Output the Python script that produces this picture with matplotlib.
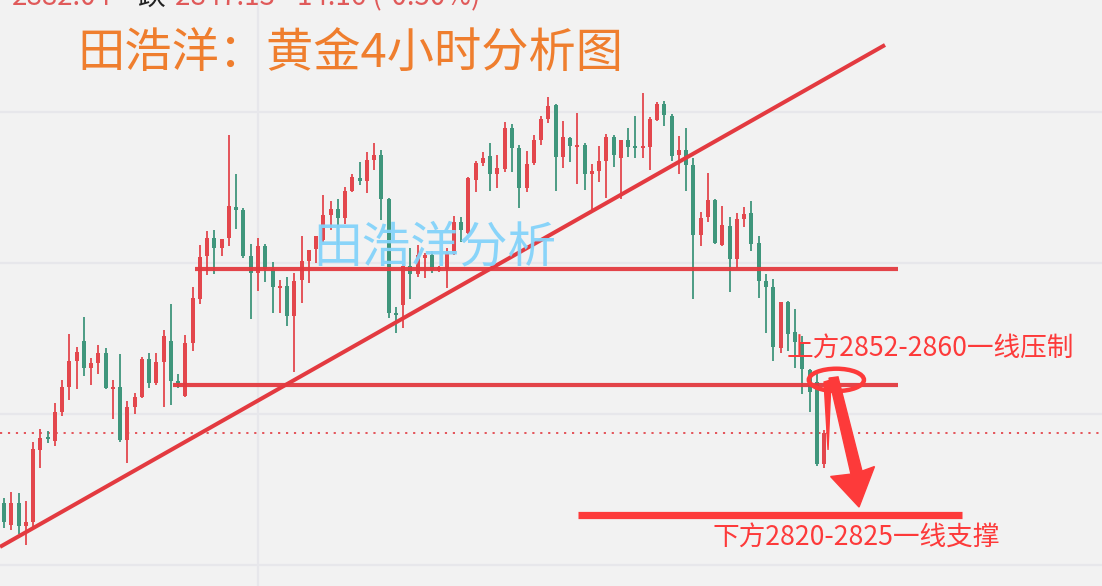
import matplotlib
matplotlib.use('Agg')
import matplotlib.pyplot as plt
from matplotlib.patches import Ellipse, Polygon, Rectangle

plt.rcParams['font.family'] = ['Noto Sans CJK SC', 'DejaVu Sans']

# ---------------- data (gold, 4h candles) ----------------
opens = [2820.5, 2813.2, 2820.5, 2812.9, 2814.2, 2838.1, 2842.4, 2841.1, 2850.7, 2858.9,
         2867.6, 2874.2, 2865.2, 2866.9, 2870.2, 2858.3, 2858.9, 2841.4, 2852.3, 2855.6,
         2868.2, 2860.3, 2867.2, 2874.2, 2860.9, 2856.0, 2873.5, 2888.1, 2902.3, 2908.3,
         2905.0, 2908.3, 2918.5, 2917.6, 2902.3, 2896.7, 2905.6, 2898.0, 2891.7, 2892.4,
         2882.5, 2894.4, 2900.7, 2904.6, 2907.6, 2915.9, 2917.9, 2914.9, 2923.8, 2928.1,
         2927.2, 2934.1, 2935.8, 2921.2, 2883.4, 2886.1, 2899.0, 2896.4, 2901.7, 2902.6,
         2897.7, 2898.0, 2903.0, 2913.6, 2909.9, 2927.5, 2933.1, 2935.4, 2929.5, 2931.1,
         2944.7, 2938.1, 2924.8, 2933.1, 2940.7, 2947.7, 2952.3, 2935.1, 2941.4, 2938.4,
         2939.1, 2929.5, 2930.5, 2933.8, 2941.7, 2934.8, 2940.7, 2938.4, 2938.1, 2938.4,
         2947.4, 2952.7, 2948.7, 2935.8, 2937.4, 2932.5, 2909.3, 2915.2, 2920.9, 2906.0,
         2912.3, 2901.3, 2914.6, 2916.6, 2906.6, 2894.0, 2892.1, 2871.9, 2887.1, 2877.2,
         2873.2, 2864.6, 2860.6, 2833.4]
highs = [2822.2, 2824.2, 2823.8, 2821.2, 2840.7, 2845.0, 2844.4, 2853.6, 2861.3, 2876.5,
         2872.2, 2882.1, 2868.5, 2872.8, 2871.9, 2861.3, 2869.9, 2854.3, 2857.0, 2868.9,
         2870.2, 2870.2, 2877.8, 2886.4, 2863.2, 2876.2, 2892.1, 2906.0, 2910.6, 2910.9,
         2908.0, 2942.4, 2929.5, 2918.2, 2906.3, 2908.3, 2906.3, 2900.3, 2894.4, 2895.4,
         2896.7, 2908.9, 2904.3, 2908.9, 2922.5, 2920.5, 2921.2, 2925.2, 2929.5, 2933.4,
         2936.8, 2939.7, 2937.4, 2921.5, 2885.4, 2899.7, 2905.0, 2906.0, 2903.3, 2904.0,
         2899.0, 2905.0, 2915.6, 2915.2, 2928.5, 2933.8, 2936.8, 2939.7, 2935.8, 2946.7,
         2946.0, 2939.1, 2937.1, 2942.4, 2948.7, 2955.0, 2952.7, 2947.0, 2941.7, 2949.7,
         2939.7, 2932.8, 2938.7, 2942.7, 2942.4, 2940.7, 2944.7, 2948.7, 2956.3, 2948.3,
         2953.3, 2953.6, 2949.3, 2942.1, 2944.7, 2934.8, 2916.9, 2929.8, 2921.2, 2918.9,
         2915.2, 2916.6, 2918.5, 2920.5, 2908.9, 2896.4, 2894.7, 2887.1, 2887.4, 2884.8,
         2875.8, 2864.9, 2863.9, 2844.7]
lows = [2812.3, 2811.6, 2810.3, 2806.6, 2812.6, 2832.1, 2840.4, 2839.4, 2849.3, 2854.6,
        2858.3, 2862.6, 2859.6, 2863.2, 2858.3, 2848.3, 2840.7, 2833.8, 2850.0, 2855.3,
        2858.6, 2859.6, 2852.3, 2853.0, 2858.6, 2855.6, 2870.9, 2886.4, 2896.0, 2896.4,
        2902.3, 2905.6, 2911.3, 2901.7, 2881.5, 2890.7, 2893.7, 2883.4, 2883.4, 2879.1,
        2863.9, 2886.8, 2893.4, 2900.0, 2907.0, 2910.9, 2906.0, 2912.9, 2923.5, 2925.8,
        2923.2, 2930.8, 2914.2, 2881.8, 2876.8, 2878.5, 2888.1, 2895.4, 2895.0, 2896.7,
        2897.0, 2891.7, 2902.6, 2907.0, 2909.6, 2923.5, 2932.1, 2923.8, 2924.8, 2930.1,
        2930.1, 2918.2, 2923.5, 2932.5, 2939.1, 2946.4, 2923.8, 2931.5, 2933.4, 2926.2,
        2924.2, 2917.2, 2926.8, 2921.5, 2931.8, 2921.2, 2935.1, 2934.8, 2934.8, 2930.8,
        2947.0, 2945.4, 2933.8, 2929.5, 2923.8, 2888.1, 2905.6, 2913.6, 2906.3, 2905.6,
        2890.4, 2898.3, 2911.9, 2904.0, 2888.4, 2876.8, 2867.6, 2870.2, 2870.9, 2865.2,
        2856.6, 2850.7, 2832.8, 2832.1]
closes = [2814.2, 2820.5, 2812.9, 2814.2, 2838.4, 2842.1, 2841.7, 2850.7, 2858.9, 2867.6,
          2870.5, 2865.2, 2866.9, 2870.2, 2858.6, 2858.9, 2841.4, 2852.3, 2855.6, 2868.2,
          2860.3, 2867.2, 2875.8, 2860.9, 2860.3, 2873.5, 2888.4, 2902.0, 2908.3, 2905.0,
          2908.0, 2918.9, 2917.6, 2902.3, 2896.7, 2905.6, 2898.0, 2892.1, 2892.4, 2882.5,
          2894.0, 2900.7, 2904.3, 2908.9, 2915.9, 2917.9, 2914.9, 2923.8, 2928.5, 2927.2,
          2934.1, 2935.8, 2921.2, 2883.4, 2882.8, 2899.0, 2896.4, 2902.6, 2902.6, 2897.7,
          2898.7, 2903.3, 2913.6, 2910.9, 2928.1, 2933.1, 2934.8, 2929.5, 2931.5, 2944.7,
          2938.1, 2924.8, 2932.8, 2940.7, 2947.7, 2952.0, 2935.1, 2941.7, 2938.7, 2939.1,
          2929.5, 2930.5, 2933.8, 2941.7, 2935.8, 2940.7, 2938.4, 2938.1, 2938.7, 2947.7,
          2952.7, 2949.0, 2935.4, 2937.4, 2932.5, 2909.3, 2914.9, 2920.9, 2906.6, 2912.6,
          2901.3, 2914.6, 2916.2, 2906.3, 2894.0, 2892.1, 2872.2, 2887.1, 2876.5, 2873.8,
          2864.9, 2857.3, 2833.4, 2843.7]

grid_prices = [2800, 2850, 2900, 2950]
grid_x = [35]

title_text = '田浩洋：黄金4小时分析图'
watermark_text = '田浩洋分析'
upper_label = '上方2852-2860一线压制'
lower_label = '下方2820-2825一线支撑'

# annotation levels (price) and spans (candle index)
resist_upper = (2898.0, 26.3, 123.2)
resist_lower = (2859.6, 23.3, 123.2)
support_line = (2816.7, 79.1, 132.0)
trend_line = ((-0.55, 2806.0), (121.4, 2972.2))
circle_center = (114.7, 2861.3)
arrow_pts = [(113.68, 2861.9), (114.92, 2862.3), (118.23, 2831.1), (119.95, 2832.6),
             (117.82, 2819.2), (113.90, 2829.3), (116.71, 2830.1)]
arrow_leg = [(113.0, 2860.6), (113.96, 2861.3), (113.55, 2838.1)]

# ---------------- drawing ----------------
UP = '#e3474d'
DOWN = '#3f967c'
LINE = '#e33a40'
BRIGHT = '#fd3a3a'
BG = '#f2f2f2'

fig = plt.figure(figsize=(11.02, 5.86), dpi=100)
fig.patch.set_facecolor(BG)
ax = fig.add_axes([0, 0, 1, 1])
ax.set_facecolor(BG)
ax.set_xlim(-0.551, 151.3)
ax.set_ylim(2793.05, 2987.09)
ax.axis('off')

for g in grid_prices:
    ax.axhline(g, color='#e7e7eb', lw=1.6, zorder=0)
for gx in grid_x:
    ax.axvline(gx, color='#e7e7eb', lw=1.6, zorder=0)

body_w = 0.55
for i, (o, h, l, c) in enumerate(zip(opens, highs, lows, closes)):
    col = UP if c >= o else DOWN
    ax.vlines(i, l, h, color=col, lw=1.3, zorder=2)
    bot = min(o, c)
    ht = max(abs(c - o), 0.5)
    ax.add_patch(Rectangle((i - body_w / 2, bot), body_w, ht, facecolor=col,
                           edgecolor='none', zorder=3))

# last price dotted line
ax.axhline(closes[-1], color=UP, lw=1.3, ls=(0, (1.2, 3.2)), zorder=1)

# horizontal resistance lines
for (p, x0, x1) in (resist_upper, resist_lower):
    ax.plot([x0, x1], [p, p], color=LINE, lw=3.0, solid_capstyle='butt', zorder=4, alpha=0.95)
# trend line
ax.plot([trend_line[0][0], trend_line[1][0]], [trend_line[0][1], trend_line[1][1]],
        color=LINE, lw=2.9, solid_capstyle='butt', zorder=4)
# support line
p, x0, x1 = support_line
ax.plot([x0, x1], [p, p], color=BRIGHT, lw=5.2, solid_capstyle='butt', zorder=4)

# circle + arrow
ax.add_patch(Ellipse(circle_center, 7.6, 7.4, fill=False, edgecolor=BRIGHT, lw=3.2, zorder=6))
ax.add_patch(Polygon(arrow_pts, closed=True, facecolor=BRIGHT, edgecolor=BRIGHT, lw=1, zorder=6))
ax.add_patch(Polygon(arrow_leg, closed=True, facecolor=BRIGHT, edgecolor=BRIGHT, lw=1, zorder=6))

W, H = 1102.0, 586.0
# title
ax.text(350 / W, 1 - 55 / H, title_text, transform=ax.transAxes, ha='center', va='center',
        fontsize=34, color='#ef7e2e', zorder=7)
# watermark
ax.text(435 / W, 1 - 248 / H, watermark_text, transform=ax.transAxes, ha='center', va='center',
        fontsize=35, color='#84d3fa', alpha=0.95, zorder=7)
# labels
ax.text(787 / W, 1 - 348 / H, upper_label, transform=ax.transAxes, ha='left', va='center',
        fontsize=19.2, color=BRIGHT, zorder=8)
ax.text(713 / W, 1 - 538 / H, lower_label, transform=ax.transAxes, ha='left', va='center',
        fontsize=19.2, color=BRIGHT, zorder=8)

# header line partly cut by the top edge, as in the screenshot
ax.text(12 / W, 1 - 5 / H, '2882.04', transform=ax.transAxes, ha='left', va='baseline',
        fontsize=20, color='#e05a5a', clip_on=False)
ax.text(137 / W, 1 - 5 / H, '跌', transform=ax.transAxes, ha='left', va='baseline',
        fontsize=20, color='#222222', clip_on=False)
ax.text(175 / W, 1 - 5 / H, '2847.13  -14.16 (-0.50%)', transform=ax.transAxes, ha='left',
        va='baseline', fontsize=20, color='#e05a5a', clip_on=False)

fig.savefig('out.png', dpi=100, facecolor=BG)
